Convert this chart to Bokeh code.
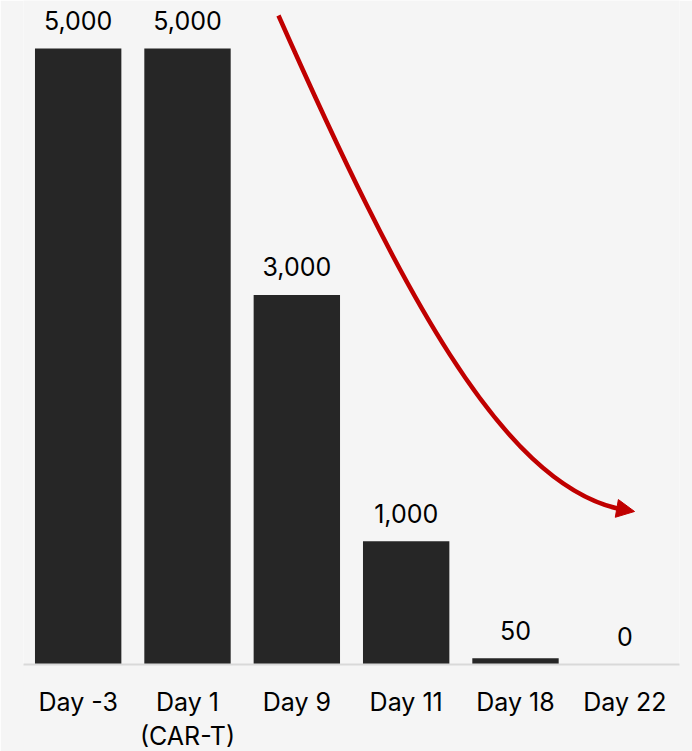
from bokeh.plotting import figure
from bokeh.models import FactorRange, Range1d, ColumnDataSource, Arrow, NormalHead
from bokeh.core.properties import value
from bokeh.embed import file_html
from bokeh.resources import INLINE

categories = ["Day -3", "Day 1\n(CAR-T)", "Day 9", "Day 11", "Day 18", "Day 22"]
values = [5000, 5000, 3000, 1000, 50, 0]
value_labels = ["5,000", "5,000", "3,000", "1,000", "50", "0"]

# trend arrow (cubic bezier, in synthetic x / value y coordinates)
arrow_start = (2.332, 5268)
arrow_c1 = (3.448, 3036)
arrow_c2 = (4.363, 1494)
arrow_end = (5.433, 1266)
arrow_tip = (5.589, 1242)

FONT = "Inter"
BG = "#f5f5f5"
RED = "#c00000"

src = ColumnDataSource(dict(cat=categories, val=values, lab=value_labels))

p = figure(x_range=FactorRange(*categories, range_padding=0),
           y_range=Range1d(0, 5390),
           frame_width=656, frame_height=664,
           min_border_left=23, min_border_right=13, min_border_top=0, min_border_bottom=87,
           output_backend="svg", toolbar_location=None,
           y_axis_location=None)

p.background_fill_color = BG
p.border_fill_color = BG
p.outline_line_color = None
p.xgrid.visible = False
p.ygrid.visible = False

p.vbar(x="cat", top="val", width=0.79, source=src, fill_color="#262626", line_color=None)

p.text(x="cat", y="val", text="lab", source=src, text_align="center", text_baseline="middle",
       y_offset=-28, text_font=value(FONT), text_font_size="25px", text_color="#000000")

p.bezier(x0=[arrow_start[0]], y0=[arrow_start[1]], x1=[arrow_end[0]], y1=[arrow_end[1]],
         cx0=[arrow_c1[0]], cy0=[arrow_c1[1]], cx1=[arrow_c2[0]], cy1=[arrow_c2[1]],
         line_color=RED, line_width=4.5)
p.add_layout(Arrow(end=NormalHead(size=18, fill_color=RED, line_color=RED, line_width=1),
                   x_start=arrow_end[0], y_start=arrow_end[1],
                   x_end=arrow_tip[0], y_end=arrow_tip[1],
                   line_color=RED, line_width=4.5))

ax = p.xaxis[0]
ax.axis_line_color = "#d9d9d9"
ax.axis_line_width = 2
ax.major_tick_line_color = None
ax.minor_tick_line_color = None
ax.major_label_standoff = 16
ax.major_label_text_font = FONT
ax.major_label_text_font_size = "25px"
ax.major_label_text_line_height = 1.15
ax.major_label_text_color = "#000000"

open("out.html", "w").write(file_html(p, INLINE))
